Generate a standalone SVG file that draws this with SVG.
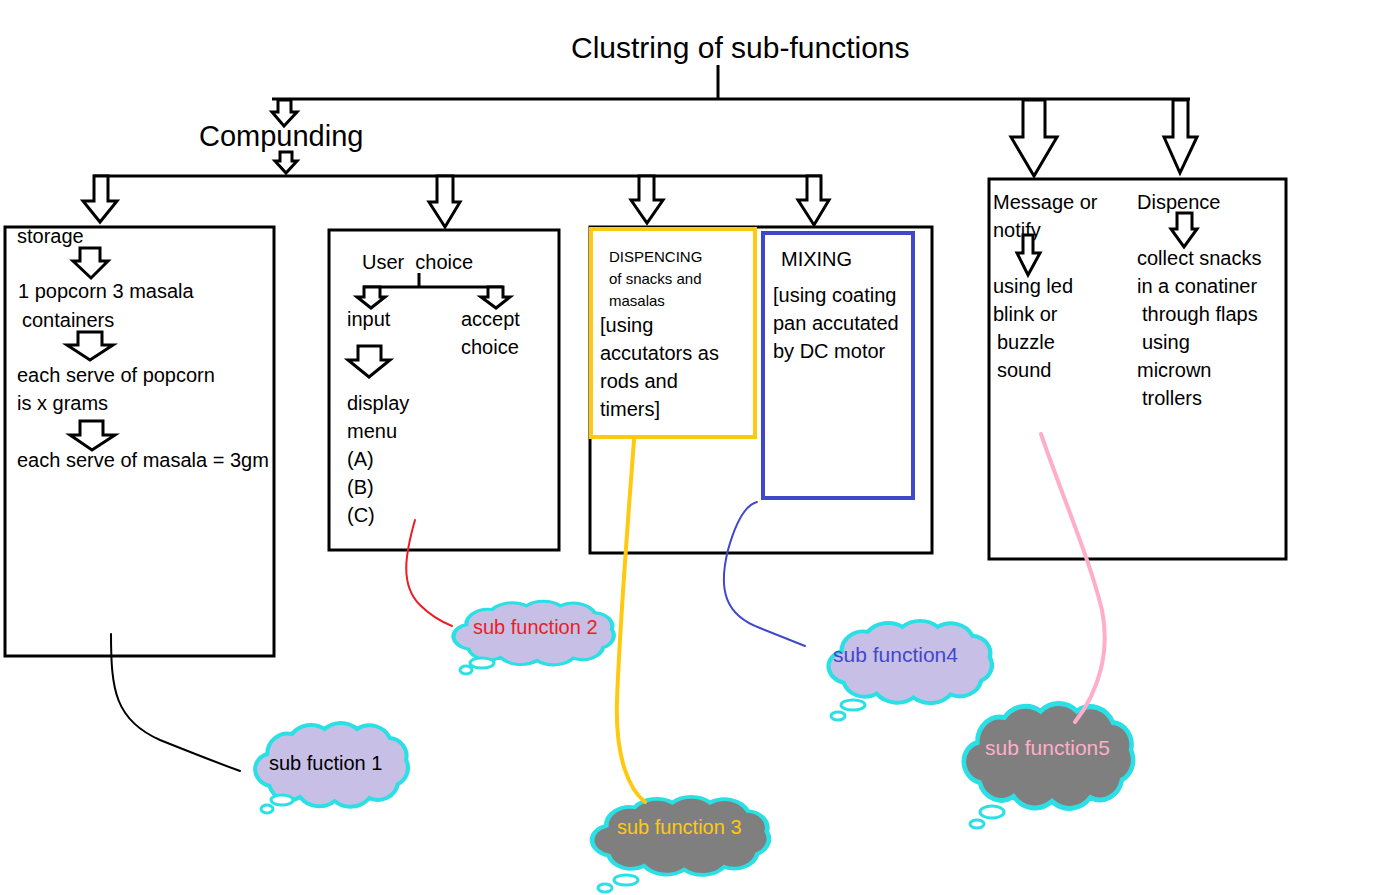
<svg xmlns="http://www.w3.org/2000/svg" width="1381" height="895" viewBox="0 0 1381 895">
<defs>
<style>
text{font-family:"Liberation Sans",Arial,sans-serif;font-size:20px;fill:#000;white-space:pre}
.box{fill:none;stroke:#000;stroke-width:3}
.ln{fill:none;stroke:#000;stroke-width:3}
.arr{fill:#fff;stroke:#000;stroke-width:3;stroke-linejoin:miter}
.cl{stroke:#2ae0e4;stroke-width:4;vector-effect:non-scaling-stroke}
.lav{fill:#c8bfe7}
.gry{fill:#7f7f7f}
.bub{stroke:#2ae0e4;stroke-width:3;fill:#fff}
.con{fill:none;stroke-linecap:round}
</style>
<path id="cloud" d="M18,30 A20,20 0 0 1 42,10 A24,24 0 0 1 74,5 A24,24 0 0 1 106,5 A22,22 0 0 1 138,14 A18,18 0 0 1 154,36 A18,18 0 0 1 146,60 A20,20 0 0 1 118,74 A24,24 0 0 1 84,77 A24,24 0 0 1 50,73 A20,20 0 0 1 20,62 A18,18 0 0 1 6,46 A16,16 0 0 1 18,30 Z"/>
</defs>
<rect width="1381" height="895" fill="#fff"/>

<g id="title">
<text x="571" y="58" style="font-size:30px">Clustring of sub-functions</text>
</g>

<g id="connectors">
<line class="ln" x1="718" y1="65" x2="718" y2="99"/>
<line class="ln" x1="272" y1="99" x2="1190" y2="99"/>
<line class="ln" x1="93" y1="176" x2="822" y2="176"/>
<polygon class="arr" points="278,100 291,100 291,112 297,112 284,126 272,112 278,112"/>
<polygon class="arr" points="280,152 292,152 292,161 297,161 286,173 275,161 280,161"/>
<polygon class="arr" points="94,176 108,176 108,201 117,201 100,222 83,201 94,201"/>
<polygon class="arr" points="437,176 453,176 453,202 460,202 445,227 429,202 437,202"/>
<polygon class="arr" points="639,176 654,176 654,200 663,200 647,223 631,200 639,200"/>
<polygon class="arr" points="807,176 821,176 821,200 829,200 814,225 798,200 807,200"/>
<polygon class="arr" points="1023,100 1045,100 1045,137 1057,137 1034,176 1011,137 1023,137"/>
<polygon class="arr" points="1173,100 1188,100 1188,137 1197,137 1180,173 1164,137 1173,137"/>
</g>

<g id="compunding">
<text x="199" y="146" style="font-size:29px">Compunding</text>
</g>

<g id="storage">
<rect class="box" x="5" y="227" width="269" height="429"/>
<text x="17" y="243">storage</text>
<polygon class="arr" points="80,248 100,248 100,261 108,261 91,278 73,261 80,261"/>
<text x="18" y="298">1 popcorn 3 masala</text>
<text x="22" y="327">containers</text>
<polygon class="arr" points="78,332 102,332 102,345 113,345 90,360 67,345 78,345"/>
<text x="17" y="382">each serve of popcorn</text>
<text x="17" y="410">is x grams</text>
<polygon class="arr" points="80,421 103,421 103,435 115,435 92,450 70,435 80,435"/>
<text x="17" y="467">each serve of masala = 3gm</text>
</g>

<g id="user-choice">
<rect class="box" x="329" y="230" width="230" height="320"/>
<text x="362" y="269">User  choice</text>
<line class="ln" x1="419" y1="273" x2="419" y2="287"/>
<line class="ln" x1="363" y1="287" x2="503" y2="287"/>
<polygon class="arr" points="364,287 380,287 380,297 385,297 371,308 357,297 364,297"/>
<polygon class="arr" points="488,287 503,287 503,297 510,297 496,308 481,297 488,297"/>
<text x="347" y="326">input</text>
<text x="461" y="326">accept</text>
<text x="461" y="354">choice</text>
<polygon class="arr" points="358,346 381,346 381,360 390,360 369,377 348,360 358,360"/>
<text x="347" y="410">display</text>
<text x="347" y="438">menu</text>
<text x="347" y="466">(A)</text>
<text x="347" y="494">(B)</text>
<text x="347" y="522">(C)</text>
</g>

<g id="dispencing-mixing">
<rect class="box" x="590" y="227" width="342" height="326"/>
<rect x="591" y="229" width="164" height="208" fill="#fff" stroke="#ffc90e" stroke-width="4"/>
<text x="609" y="262" style="font-size:15px">DISPENCING</text>
<text x="609" y="284" style="font-size:15px">of snacks and</text>
<text x="609" y="306" style="font-size:15px">masalas</text>
<text x="600" y="332">[using</text>
<text x="600" y="360">accutators as</text>
<text x="600" y="388">rods and</text>
<text x="600" y="416">timers]</text>
<rect x="763" y="233" width="150" height="265" fill="#fff" stroke="#3f48cc" stroke-width="4"/>
<text x="781" y="266">MIXING</text>
<text x="773" y="302">[using coating</text>
<text x="773" y="330">pan accutated</text>
<text x="773" y="358">by DC motor</text>
</g>

<g id="notify-dispence">
<rect class="box" x="989" y="179" width="297" height="380"/>
<text x="993" y="209">Message or</text>
<text x="993" y="237">notify</text>
<polygon class="arr" points="1023,235 1033,235 1033,253 1040,253 1028,275 1017,253 1023,253"/>
<text x="993" y="293">using led</text>
<text x="993" y="321">blink or</text>
<text x="997" y="349">buzzle</text>
<text x="997" y="377">sound</text>
<text x="1137" y="209">Dispence</text>
<polygon class="arr" points="1177,213 1192,213 1192,229 1197,229 1184,247 1171,229 1177,229"/>
<text x="1137" y="265">collect snacks</text>
<text x="1137" y="293">in a conatiner</text>
<text x="1142" y="321">through flaps</text>
<text x="1142" y="349">using</text>
<text x="1137" y="377">micrown</text>
<text x="1142" y="405">trollers</text>
</g>

<g id="cloud1">
<use href="#cloud" class="cl lav" transform="translate(249,724) scale(1.02,1)"/>
<ellipse class="bub" cx="282" cy="800" rx="11" ry="5"/>
<ellipse class="bub" cx="267" cy="809" rx="6" ry="4"/>
<text x="269" y="770">sub fuction 1</text>
</g>

<g id="cloud2">
<use href="#cloud" class="cl lav" transform="translate(447,602) scale(1.07,0.76)"/>
<ellipse class="bub" cx="482" cy="663" rx="12" ry="5"/>
<ellipse class="bub" cx="466" cy="670" rx="6" ry="4"/>
<text x="473" y="634" style="fill:#ed1c24">sub function 2</text>
</g>

<g id="cloud3">
<use href="#cloud" class="cl gry" transform="translate(585,798) scale(1.18,0.93)"/>
<ellipse class="bub" cx="626" cy="880" rx="12" ry="5"/>
<ellipse class="bub" cx="605" cy="888" rx="7" ry="4"/>
<text x="617" y="834" style="fill:#ffc90e">sub function 3</text>
</g>

<g id="cloud4">
<use href="#cloud" class="cl lav" transform="translate(822,622) scale(1.09,0.98)"/>
<ellipse class="bub" cx="853" cy="705" rx="12" ry="5"/>
<ellipse class="bub" cx="838" cy="716" rx="7" ry="4"/>
<text x="833" y="662" style="font-size:21px;fill:#3f48cc">sub function4</text>
</g>

<g id="cloud5">
<use href="#cloud" class="cl gry" transform="translate(957,705) scale(1.13,1.25)"/>
<ellipse class="bub" cx="992" cy="812" rx="12" ry="6"/>
<ellipse class="bub" cx="977" cy="824" rx="7" ry="4"/>
<text x="985" y="755" style="font-size:21px;fill:#ffaec9">sub function5</text>
</g>

<g id="links">
<path class="con" d="M111,634 C111,690 115,720 160,740 C190,752 215,762 240,771" stroke="#000" stroke-width="2"/>
<path class="con" d="M415,520 C405,555 400,585 420,605 C432,617 442,622 452,626" stroke="#ed1c24" stroke-width="2"/>
<path class="con" d="M634,440 C628,520 620,620 617,700 C615,760 630,790 645,802" stroke="#ffc90e" stroke-width="4"/>
<path class="con" d="M757,502 C745,505 735,525 728,550 C718,590 725,615 760,628 C780,636 795,642 805,646" stroke="#3f48cc" stroke-width="2"/>
<path class="con" d="M1041,434 C1060,490 1090,560 1102,610 C1110,650 1100,690 1075,722" stroke="#ffaec9" stroke-width="4"/>
</g>
</svg>
